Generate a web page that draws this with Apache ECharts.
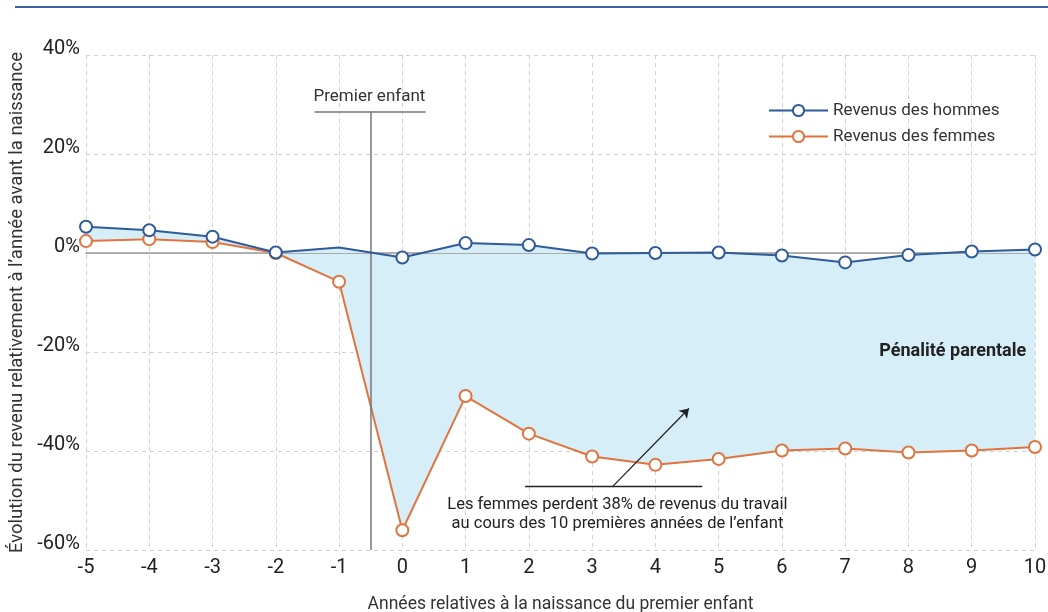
<!DOCTYPE html>
<html>
<head>
<meta charset="utf-8">
<script src="https://cdn.jsdelivr.net/npm/echarts@6/dist/echarts.min.js"></script>
<style>
  html, body { margin: 0; padding: 0; background: #fff; }
  #chart { width: 1048px; height: 612px; }
</style>
</head>
<body>
<div id="chart"></div>
<script>
// Années relatives à la naissance du premier enfant
const years = [-5, -4, -3, -2, -1, 0, 1, 2, 3, 4, 5, 6, 7, 8, 9, 10];
// Évolution du revenu (%) par rapport à l'année avant la naissance
const hommes = [5.3, 4.6, 3.3, 0.1, 1.1, -0.9, 2.0, 1.6, -0.1, 0.0, 0.1, -0.5, -1.9, -0.4, 0.3, 0.7];
const femmes = [2.4, 2.8, 2.2, 0.0, -5.8, -56.0, -28.9, -36.5, -41.1, -42.8, -41.6, -39.9, -39.5, -40.3, -39.9, -39.2];
const yTicks = [-60, -40, -20, 0, 20, 40];

const BLUE = '#2f5a9b';
const ORANGE = '#e0743f';
const FILL = '#d6eef8';
const FONT = 'Roboto, "Liberation Sans", sans-serif';

const pairs = arr => years.map((x, i) => [x, arr[i]]);

const chart = echarts.init(document.getElementById('chart'), null, { renderer: 'canvas' });

const markerStyle = color => ({ color: '#fff', borderColor: color, borderWidth: 2 });

// Shaded gap between the two income curves (the parental penalty)
function renderGap(params, api) {
  const upper = years.map((x, i) => api.coord([x, hommes[i]]));
  const lower = years.map((x, i) => api.coord([x, femmes[i]])).reverse();
  return {
    type: 'polygon',
    shape: { points: upper.concat(lower) },
    style: { fill: FILL, stroke: null },
    silent: true
  };
}

chart.setOption({
  animation: false,
  textStyle: { fontFamily: FONT },
  grid: { left: 86, right: 13, top: 55, bottom: 62, containLabel: false, outerBoundsMode: 'none' },
  legend: {
    data: ['Revenus des hommes', 'Revenus des femmes'],
    orient: 'vertical',
    left: 768,
    top: 102,
    padding: 0,
    itemWidth: 59,
    itemHeight: 14,
    itemGap: 9,
    textStyle: { fontFamily: FONT, fontSize: 17, color: '#333' }
  },
  xAxis: {
    type: 'value',
    min: -5, max: 10, interval: 1,
    name: 'Années relatives à la naissance du premier enfant',
    nameLocation: 'middle',
    nameGap: 46,
    nameTextStyle: { fontFamily: FONT, fontSize: 17.5, color: '#333' },
    axisLine: { show: true, lineStyle: { color: '#999', width: 1.5 } },
    axisTick: { show: false },
    axisLabel: { fontFamily: FONT, fontSize: 20, color: '#222', margin: 8 },
    splitLine: { show: true, lineStyle: { color: '#cfcfcf', type: [4, 4], width: 1 } }
  },
  yAxis: {
    type: 'value',
    min: yTicks[0], max: yTicks[yTicks.length - 1], interval: 20,
    name: 'Évolution du revenu relativement à l’année avant la naissance',
    nameLocation: 'middle',
    nameGap: 53,
    nameTextStyle: { fontFamily: FONT, fontSize: 18.5, color: '#333' },
    axisLine: { show: false },
    axisTick: { show: false },
    axisLabel: {
      fontFamily: FONT, fontSize: 20, color: '#222', margin: 6,
      verticalAlign: 'bottom', lineHeight: 12,
      formatter: v => v + '%'
    },
    splitLine: { show: true, lineStyle: { color: '#cfcfcf', type: [4, 4], width: 1 } }
  },
  series: [
    {
      name: 'gap',
      type: 'custom',
      renderItem: renderGap,
      data: [[0, 0]],
      silent: true,
      z: 1
    },
    {
      name: 'axe zéro',
      type: 'line',
      data: [],
      z: 2,
      markLine: {
        silent: true,
        symbol: ['none', 'none'],
        label: { show: false },
        lineStyle: { color: '#aaa', type: 'solid', width: 1 },
        data: [
          [{ coord: [-5, 0] }, { coord: [10, 0] }]
        ]
      }
    },
    {
      name: 'Premier enfant',
      type: 'line',
      data: [],
      z: 3,
      markLine: {
        silent: true,
        symbol: ['none', 'none'],
        lineStyle: { color: '#777', type: 'solid', width: 1.5 },
        label: { show: false },
        data: [
          [{ coord: [-0.5, 28.6] }, { coord: [-0.5, -60] }],
          [{ coord: [-1.39, 28.6] }, { coord: [0.37, 28.6] }]
        ]
      }
    },
    {
      name: 'annotation',
      type: 'line',
      data: [],
      z: 6,
      markLine: {
        silent: true,
        label: { show: false },
        lineStyle: { color: '#222', type: 'solid', width: 1.3 },
        data: [
          [{ coord: [1.94, -47.1], symbol: 'none' }, { coord: [4.74, -47.1], symbol: 'none' }],
          [{ coord: [3.33, -47.1], symbol: 'none' }, { coord: [4.53, -31.4], symbol: 'arrow', symbolSize: 9 }]
        ]
      }
    },
    {
      name: 'Revenus des femmes',
      type: 'line',
      data: pairs(femmes),
      color: ORANGE,
      symbol: 'circle',
      symbolSize: 12,
      showAllSymbol: true,
      lineStyle: { color: ORANGE, width: 2 },
      itemStyle: markerStyle(ORANGE),
      z: 4
    },
    {
      name: 'Revenus des hommes',
      type: 'line',
      data: pairs(hommes).map((p, i) => years[i] === -1 ? { value: p, symbol: 'none' } : p),
      color: BLUE,
      symbol: 'circle',
      symbolSize: 12,
      showAllSymbol: true,
      lineStyle: { color: BLUE, width: 2 },
      itemStyle: markerStyle(BLUE),
      z: 5
    }
  ]
});

// Text annotations anchored to data coordinates
const at = (x, y) => chart.convertToPixel({ gridIndex: 0 }, [x, y]);
const textAt = (pos, text, style) => ({
  type: 'text',
  x: pos[0], y: pos[1],
  z: 10,
  silent: true,
  style: Object.assign({
    text: text,
    fontFamily: FONT,
    fill: '#222',
    align: 'center',
    verticalAlign: 'middle'
  }, style)
});

chart.setOption({
  graphic: [
    { type: 'line', shape: { x1: 15, y1: 7, x2: 1048, y2: 7 }, style: { stroke: '#3d62a0', lineWidth: 2 } },
    textAt(at(-0.52, 31.6), 'Premier enfant', { fontSize: 17, fill: '#333' }),
    textAt(at(3.4, -52.8),
      'Les femmes perdent 38% de revenus du travail\nau cours des 10 premières années de l’enfant',
      { fontSize: 16.5, lineHeight: 19 }),
    textAt(at(8.7, -19.8), 'Pénalité parentale', { fontSize: 18, fontWeight: 'bold' })
  ]
});
</script>
</body>
</html>
